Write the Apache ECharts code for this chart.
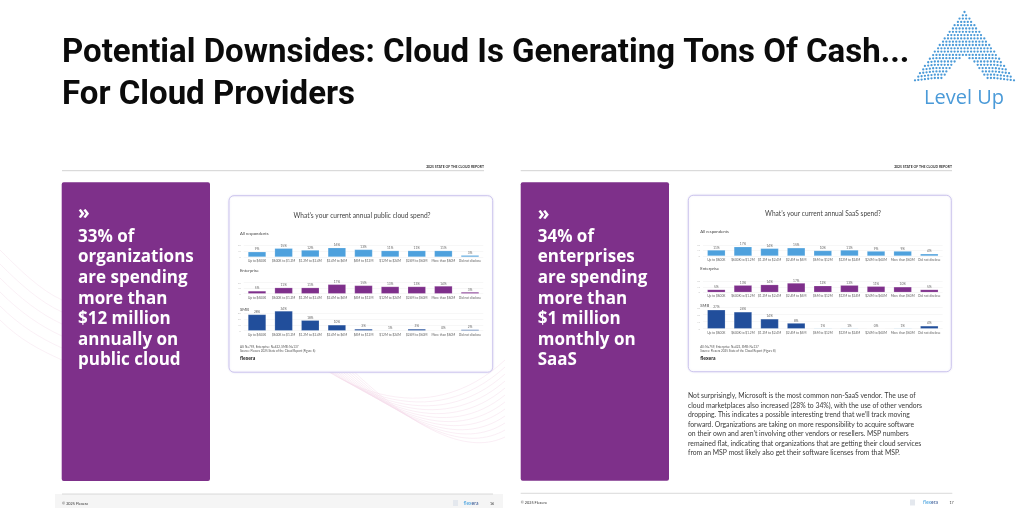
<!DOCTYPE html>
<html>
<head>
<meta charset="utf-8">
<script src="https://cdn.jsdelivr.net/npm/echarts@6.0.0/dist/echarts.min.js"></script>
<style>
html,body{margin:0;padding:0;background:#fff;}
#main{width:1024px;height:522px;}
</style>
</head>
<body>
<div id="main"></div>
<script>
// ---- data ----
const categories = ['Up to $600K', '$600K to $1.2M', '$1.2M to $2.4M', '$2.4M to $6M', '$6M to $12M', '$12M to $24M', '$24M to $60M', 'More than $60M', 'Did not disclose'];
const cloudAll = [9, 15, 12, 16, 13, 11, 11, 11, 3];
const cloudEnterprise = [5, 11, 11, 17, 15, 13, 13, 14, 3];
const cloudSMB = [28, 34, 18, 10, 3, 1, 3, 0, 2];
const saasAll = [11, 17, 14, 15, 10, 11, 9, 9, 4];
const saasEnterprise = [5, 13, 14, 17, 12, 13, 11, 10, 5];
const saasSMB = [27, 24, 14, 8, 1, 1, 0, 1, 4];

const titleLines = ['Potential Downsides: Cloud Is Generating Tons Of Cash...', 'For Cloud Providers'];
const leftCallout = ['33% of', 'organizations', 'are spending', 'more than', '$12 million', 'annually on', 'public cloud'];
const rightCallout = ['34% of', 'enterprises', 'are spending', 'more than', '$1 million', 'monthly on', 'SaaS'];
const paragraph = [
  'Not surprisingly, Microsoft is the most common non-SaaS vendor. The use of',
  'cloud marketplaces also increased (28% to 34%), with the use of other vendors',
  'dropping. This indicates a possible interesting trend that we\u2019ll track moving',
  'forward. Organizations are taking on more responsibility to acquire software',
  'on their own and aren\u2019t involving other vendors or resellers. MSP numbers',
  'remained flat, indicating that organizations that are getting their cloud services',
  'from an MSP most likely also get their software licenses from that MSP.'
];

// ---- styles ----
const C = {light: '#4ea1dd', lightPale: '#8fc2ea', purple: '#7e2f8b', dark: '#214e9b', box: '#7e308a', logo: '#4a9ad8'};
const FF = 'Lato, "Open Sans", sans-serif';

const panels = [
  {values: cloudAll, color: C.light, left: 243.7, top: 245.4, height: 11.6, max: 20},
  {values: cloudEnterprise, color: C.purple, left: 243.7, top: 282.7, height: 11, max: 20},
  {values: cloudSMB, color: C.dark, left: 243.7, top: 313.3, height: 17.4, max: 30},
  {values: saasAll, color: C.light, left: 703, top: 245.1, height: 10.9, max: 20},
  {values: saasEnterprise, color: C.purple, left: 703, top: 281.4, height: 10.9, max: 20},
  {values: saasSMB, color: C.dark, left: 703, top: 307.7, height: 21, max: 30}
];

const grid = [], xAxis = [], yAxis = [], series = [];
panels.forEach((p, i) => {
  grid.push({left: p.left, top: p.top, width: 239.6, height: p.height, outerBoundsMode: 'none', containLabel: false, z: 6});
  xAxis.push({
    type: 'category', gridIndex: i, data: categories, z: 6,
    axisLine: {show: false}, axisTick: {show: false},
    axisLabel: {interval: 0, fontSize: 3.2, color: '#666', margin: 2.5, fontFamily: FF}
  });
  yAxis.push({
    type: 'value', gridIndex: i, min: 0, max: p.max, interval: 10, z: 6,
    axisLine: {show: false}, axisTick: {show: false},
    axisLabel: {fontSize: 2.6, color: '#c4c4c4', margin: 3, fontFamily: FF},
    splitLine: {lineStyle: {color: '#efefef', width: 0.5}}
  });
  series.push({
    type: 'bar', xAxisIndex: i, yAxisIndex: i, barWidth: 18, clip: false, z: 8,
    data: p.values.map(v => ({value: v, itemStyle: (p.color === C.dark && v === 1) ? {color: C.lightPale} : undefined})),
    itemStyle: {color: p.color, borderColor: 'rgba(255,255,255,0.35)', borderWidth: 0.5},
    label: {show: true, position: 'top', distance: 1, fontSize: 3.2, color: '#666', fontFamily: FF, formatter: '{c}%'},
    silent: true, animation: false
  });
});

// ---- decoration graphics ----
const g = [];
function txt(x, y, text, o) {
  o = o || {};
  g.push({
    type: 'text', x: x, y: y, z: o.z || 10, silent: true,
    style: Object.assign({
      text: text, fill: o.fill || '#333',
      fontSize: o.size || 8, fontFamily: o.family || FF, fontWeight: o.weight || 'normal',
      align: o.align || 'left', textAlign: o.align || 'left',
      verticalAlign: o.va || 'middle', textVerticalAlign: o.va || 'middle',
      lineHeight: o.lh
    }, o.rich ? {rich: o.rich} : {})
  });
}
function rect(x, y, w, h, style, r, z) {
  g.push({type: 'rect', z: z || 1, silent: true, shape: {x: x, y: y, width: w, height: h, r: r || 0}, style: style});
}
function line(x1, y1, x2, y2, stroke, w, z) {
  g.push({type: 'line', z: z || 2, silent: true, shape: {x1: x1, y1: y1, x2: x2, y2: y2}, style: {stroke: stroke, lineWidth: w}});
}

// faint pink swooshes behind the left page
for (let k = 0; k < 12; k++) {
  g.push({type: 'bezierCurve', z: 0, silent: true,
    shape: {x1: 250 + k * 6, y1: 300 + k * 3, cpx1: 330 + k * 8, cpy1: 400 + k * 4, cpx2: 430 + k * 4, cpy2: 430 + k * 2, x2: 505, y2: 360 + k * 7},
    style: {stroke: '#f4dbe9', lineWidth: 0.6, fill: null, opacity: 0.8}});
}
for (let k = 0; k < 6; k++) {
  g.push({type: 'bezierCurve', z: 0, silent: true,
    shape: {x1: 0, y1: 250 + k * 14, cpx1: 20, cpy1: 270 + k * 14, cpx2: 40, cpy2: 290 + k * 12, x2: 62, y2: 300 + k * 12},
    style: {stroke: '#f4dbe9', lineWidth: 0.6, fill: null, opacity: 0.7}});
}

// title
txt(62, 54, titleLines[0], {size: 33, weight: 'bold', family: 'Roboto, sans-serif', fill: '#0b0b0b'});
txt(62, 96, titleLines[1], {size: 33, weight: 'bold', family: 'Roboto, sans-serif', fill: '#0b0b0b'});

// logo dots
for (let r = 0; r <= 20; r++) {
  const y = 12 + r * 3.3;
  const half = r * 2.5;
  const n = Math.floor((2 * half) / 3.3);
  const notch = y > 53 ? (y - 53) * 0.85 : -1;
  for (let k = 0; k <= n; k++) {
    const x = 964.5 - (n * 3.3) / 2 + k * 3.3;
    if (Math.abs(x - 964.5) < notch) continue;
    const drop = Math.max(0, Math.abs(x - 964.5) - 30) * 0.12;
    g.push({type: 'circle', z: 5, silent: true, shape: {cx: x, cy: y + drop, r: 1.15}, style: {fill: C.logo}});
  }
}
txt(964, 98, 'Level Up', {size: 20, fill: C.logo, align: 'center', family: '"Open Sans", Lato, sans-serif'});

// ---- left page ----
line(62, 170.7, 484, 170.7, '#d2d2d2', 1);
txt(484, 166.7, '2025 STATE OF THE CLOUD REPORT', {size: 3.4, weight: 'bold', align: 'right', fill: '#333'});
rect(61.7, 182.3, 148.3, 298.7, {fill: C.box}, 2, 3);
txt(78, 213.5, '\u00bb', {size: 19, weight: 'bold', fill: '#fff', family: '"Open Sans", sans-serif'});
txt(78, 226.6, leftCallout.join('\n'), {size: 17, weight: 'bold', fill: '#fff', va: 'top', lh: 20.6, family: '"Open Sans", sans-serif'});
rect(229, 195.7, 263.7, 176.5, {fill: '#fff', stroke: '#cdc6ee', lineWidth: 1, shadowBlur: 2, shadowColor: 'rgba(120,100,200,0.15)'}, 5, 1);
txt(362, 215.7, 'What\u2019s your current annual public cloud spend?', {size: 6.6, fill: '#444', align: 'center'});
txt(240, 233.3, 'All respondents', {size: 4.2, fill: '#444'});
txt(240, 271, 'Enterprise', {size: 4.2, fill: '#444'});
txt(240, 309.5, 'SMB', {size: 4.2, fill: '#444'});
txt(240, 346.8, 'All: N=759, Enterprise: N=422, SMB: N=137', {size: 3, fill: '#555'});
txt(240, 350.8, 'Source: Flexera 2025 State of the Cloud Report (Figure 6)', {size: 3, fill: '#555'});
txt(240, 358.3, 'flexera', {size: 5, weight: 'bold', fill: '#222'});
rect(55, 494, 448, 14, {fill: '#f5f5f5'}, 0, 1);
line(62, 494, 493, 494, '#d0d0d0', 0.8);
txt(62, 503.7, '\u00a9 2025 Flexera', {size: 3.8, fill: '#333'});
rect(453, 500, 5, 6, {fill: '#e4e8ee'}, 0, 3);
txt(463.5, 503.4, '{a|flex}{b|era}', {size: 5, rich: {a: {fill: '#4aa3df', fontSize: 5, fontFamily: FF}, b: {fill: '#2d4f8e', fontSize: 5, fontFamily: FF}}});
txt(490, 503.7, '16', {size: 3.6, fill: '#333'});

// ---- right page ----
line(520.7, 170.7, 952, 170.7, '#d2d2d2', 1);
txt(952, 166.7, '2025 STATE OF THE CLOUD REPORT', {size: 3.4, weight: 'bold', align: 'right', fill: '#333'});
rect(520.7, 182.3, 148.3, 298.4, {fill: C.box}, 2, 3);
txt(537.7, 214.5, '\u00bb', {size: 19, weight: 'bold', fill: '#fff', family: '"Open Sans", sans-serif'});
txt(537.7, 226.6, rightCallout.join('\n'), {size: 17, weight: 'bold', fill: '#fff', va: 'top', lh: 20.6, family: '"Open Sans", sans-serif'});
rect(688.3, 195.3, 263, 176.4, {fill: '#fff', stroke: '#cdc6ee', lineWidth: 1, shadowBlur: 2, shadowColor: 'rgba(120,100,200,0.15)'}, 5, 1);
txt(823, 214.2, 'What\u2019s your current annual SaaS spend?', {size: 6.6, fill: '#444', align: 'center'});
txt(700.3, 231.7, 'All respondents', {size: 4.2, fill: '#444'});
txt(700.3, 269, 'Enterprise', {size: 4.2, fill: '#444'});
txt(700.3, 305.2, 'SMB', {size: 4.2, fill: '#444'});
txt(700.3, 347.5, 'All: N=759, Enterprise: N=422, SMB: N=137', {size: 3, fill: '#555'});
txt(700.3, 351.5, 'Source: Flexera 2025 State of the Cloud Report (Figure 8)', {size: 3, fill: '#555'});
txt(700.3, 358.7, 'flexera', {size: 5, weight: 'bold', fill: '#222'});
txt(688, 391, paragraph.join('\n'), {size: 6.8, fill: '#3a3a3a', va: 'top', lh: 9.55});
line(520.7, 493.3, 952.3, 493.3, '#d0d0d0', 0.8);
txt(520.7, 502.7, '\u00a9 2025 Flexera', {size: 3.8, fill: '#333'});
rect(910, 499.5, 5, 6, {fill: '#e4e8ee'}, 0, 3);
txt(923, 502.6, '{a|flex}{b|era}', {size: 5, rich: {a: {fill: '#4aa3df', fontSize: 5, fontFamily: FF}, b: {fill: '#2d4f8e', fontSize: 5, fontFamily: FF}}});
txt(949.5, 502.7, '17', {size: 3.6, fill: '#333'});

const chart = echarts.init(document.getElementById('main'), null, {renderer: 'canvas'});
chart.setOption({
  backgroundColor: '#fff',
  animation: false,
  textStyle: {fontFamily: FF},
  grid: grid, xAxis: xAxis, yAxis: yAxis, series: series,
  graphic: {elements: g}
});
</script>
</body>
</html>
